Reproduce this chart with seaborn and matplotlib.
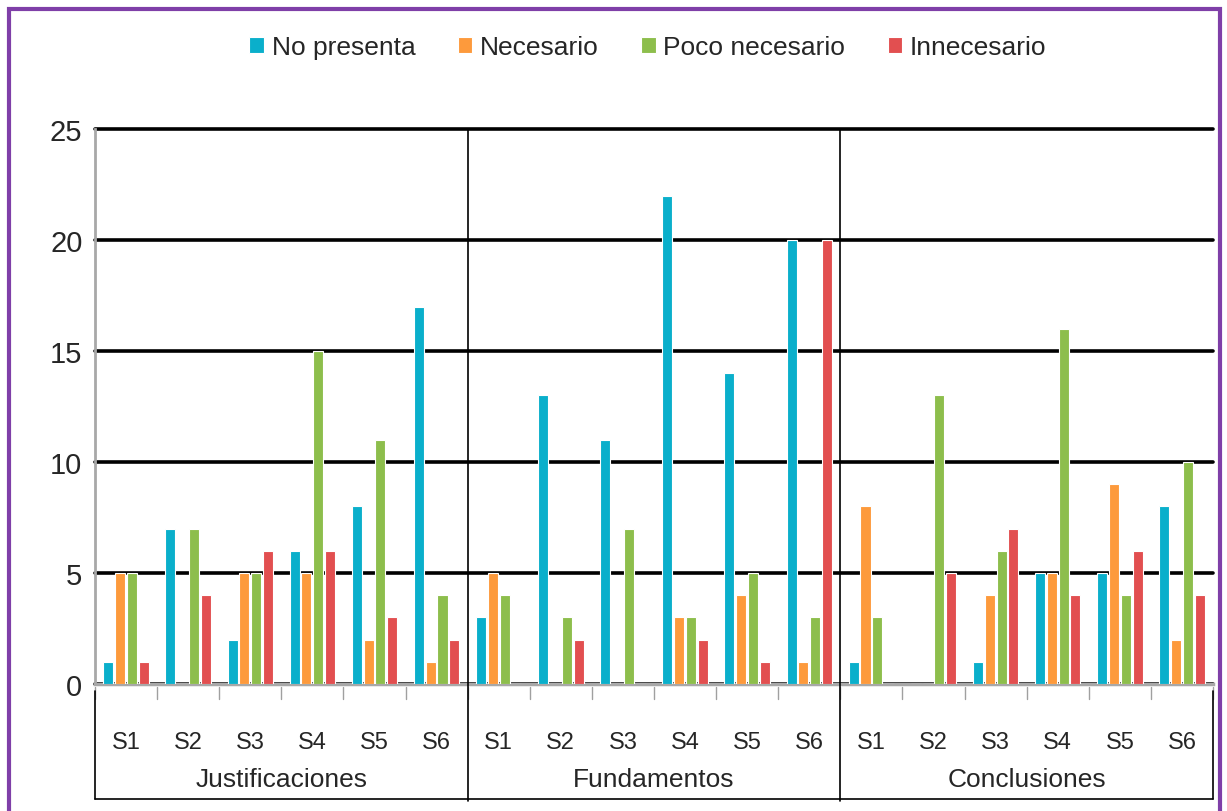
import numpy as np
import pandas as pd
import matplotlib
matplotlib.use("Agg")
import matplotlib.pyplot as plt
import matplotlib.transforms as mtransforms
from matplotlib.patches import Rectangle
import seaborn as sns

groups = ["Justificaciones", "Fundamentos", "Conclusiones"]
sections = ["S1", "S2", "S3", "S4", "S5", "S6"]
series = ["No presenta", "Necesario", "Poco necesario", "Innecesario"]
colors = ["#0AAFCB", "#FD9A3C", "#8DBE4C", "#E24F50"]

# values per section, in order J S1..S6, F S1..S6, C S1..S6
no_presenta = [1, 7, 2, 6, 8, 17, 3, 13, 11, 22, 14, 20, 1, 0, 1, 5, 5, 8]
necesario = [5, 0, 5, 5, 2, 1, 5, 0, 0, 3, 4, 1, 8, 0, 4, 5, 9, 2]
poco_necesario = [5, 7, 5, 15, 11, 4, 4, 3, 7, 3, 5, 3, 3, 13, 6, 16, 4, 10]
innecesario = [1, 4, 6, 6, 3, 2, 0, 2, 0, 2, 1, 20, 0, 5, 7, 4, 6, 4]

cats = [f"{g} {s}" for g in groups for s in sections]
rows = []
for name, vals in zip(series, [no_presenta, necesario, poco_necesario, innecesario]):
    for c, v in zip(cats, vals):
        rows.append({"cat": c, "value": v, "serie": name})
df = pd.DataFrame(rows)

sns.set_style("white")
plt.rcParams['font.family'] = ['Liberation Sans', 'DejaVu Sans']

fig = plt.figure(figsize=(12.27, 8.12), dpi=100)
ax = fig.add_axes([0.0774, 0.1564, 0.9112, 0.6835])

sns.barplot(data=df, x="cat", y="value", hue="serie", order=cats, hue_order=series,
            palette=colors, saturation=1, width=0.76, gap=0.15, edgecolor="white",
            linewidth=0.8, ax=ax, zorder=3)

handles, labels = ax.get_legend_handles_labels()
ax.get_legend().remove()
fig.legend(handles, labels, loc="center", bbox_to_anchor=(0.528, 0.941), ncol=4,
           frameon=False, fontsize=19, handlelength=0.55, handleheight=0.55,
           handletextpad=0.3, columnspacing=1.6)

ax.set_xlim(-0.5, 17.5)
ax.set_ylim(0, 25)
for y in [0, 5, 10, 15, 20, 25]:
    ax.axhline(y, color="black", lw=2.6, zorder=1, clip_on=False)

ax.set_yticks([0, 5, 10, 15, 20, 25])
ax.tick_params(axis="y", length=0, pad=9, labelsize=21)
ax.set_xticks(range(18))
ax.set_xticklabels(sections * 3)
ax.tick_params(axis="x", length=0, pad=34, labelsize=17)
ax.set_xlabel("")
ax.set_ylabel("")

for s in ["top", "right"]:
    ax.spines[s].set_visible(False)
ax.spines["left"].set_color("#A8A8A8")
ax.spines["left"].set_linewidth(2)
ax.spines["bottom"].set_color("#A8A8A8")
ax.spines["bottom"].set_linewidth(2.5)

trans = mtransforms.blended_transform_factory(ax.transData, ax.transAxes)
# small ticks at section boundaries
for xb in np.arange(-0.5, 18, 1):
    ax.plot([xb, xb], [-0.005, -0.027], color="#A0A0A0", lw=1, transform=trans, clip_on=False)
# group separators and box
for xb in [5.5, 11.5]:
    ax.plot([xb, xb], [1.0, -0.21], color="black", lw=1.2, transform=trans, clip_on=False, zorder=4)
for xb in [-0.5, 17.5]:
    ax.plot([xb, xb], [-0.012, -0.207], color="black", lw=1.2, transform=trans, clip_on=False)
ax.plot([-0.5, 17.5], [-0.207, -0.207], color="black", lw=1.2, transform=trans, clip_on=False)

for i, g in enumerate(groups):
    ax.text(i * 6 + 2.5, -0.171, g, transform=trans, ha="center", va="center", fontsize=19)

fig.patches.append(Rectangle((0.007, -0.01), 0.987, 0.998, transform=fig.transFigure,
                             fill=False, edgecolor="#7F3FA8", lw=3))

fig.savefig("out.png", dpi=100)
